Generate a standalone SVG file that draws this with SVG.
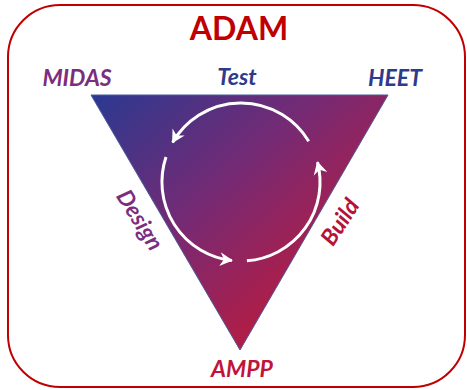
<svg xmlns="http://www.w3.org/2000/svg" width="467" height="390" viewBox="0 0 467 390">
<style>
text{font-family:Lato,"Open Sans","Liberation Sans",sans-serif;font-weight:bold;text-anchor:middle}
.it{font-style:italic;font-size:23px}
.arc{fill:none;stroke:#fff;stroke-width:3;marker-end:url(#ah)}
</style>
<defs>
<linearGradient id="g" gradientUnits="userSpaceOnUse" x1="95" y1="95" x2="300" y2="320">
<stop offset="0" stop-color="#2B3990"/>
<stop offset="0.5" stop-color="#762A74"/>
<stop offset="1" stop-color="#BA1B3F"/>
</linearGradient>
<marker id="ah" viewBox="-14 -8 16 16" refX="0" refY="0" markerWidth="16" markerHeight="16" markerUnits="userSpaceOnUse" orient="auto">
<path d="M1,0 L-12,-7 L-8,0 L-12,7 z" fill="#fff"/>
</marker>
</defs>
<rect id="frame" x="8" y="5" width="457" height="382" rx="52" fill="#fff" stroke="#C00000" stroke-width="2"/>
<g id="title"><text x="239" y="40" font-size="32" fill="#C00000">ADAM</text></g>
<g id="triangle">
<polygon points="91,95 388,95 240,350" fill="url(#g)" stroke="#4A5A9C" stroke-width="1"/>
</g>
<g id="connectors">
<path class="arc" d="M308.7,141.3 A79,79 0 0 0 172.6,142.5"/>
<path class="arc" d="M166,157 A79,79 0 0 0 231.9,260.5"/>
<path class="arc" d="M246.9,260.8 A79,79 0 0 0 317.5,162.1"/>
</g>
<g id="midas"><text class="it" x="77" y="86" fill="#7B2D7E">MIDAS</text></g>
<g id="test"><text class="it" x="237" y="85" fill="#2E3A8C">Test</text></g>
<g id="heet"><text class="it" x="395" y="86" fill="#2E3A8C">HEET</text></g>
<g id="ampp"><text class="it" x="242" y="377" fill="#C0143C">AMPP</text></g>
<g id="design"><text class="it" transform="translate(140,220) rotate(58)" y="8" fill="#7B2D7E">Design</text></g>
<g id="build"><text class="it" transform="translate(340,222) rotate(-57)" y="8" fill="#B5123A">Build</text></g>
</svg>
